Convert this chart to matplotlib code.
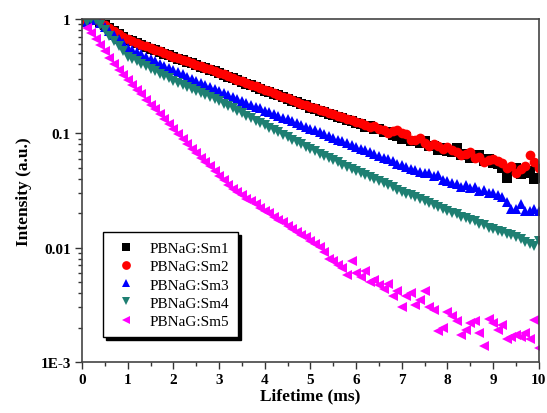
import matplotlib
matplotlib.use("Agg")
import matplotlib.pyplot as plt
from matplotlib.ticker import FixedLocator, MultipleLocator, NullFormatter

plt.rcParams['font.family'] = ['Liberation Serif', 'DejaVu Serif']

# sampling times (ms)
time_ms = [
    0.1, 0.2, 0.3, 0.4, 0.5, 0.6, 0.7, 0.8, 0.9, 1.0,
    1.1, 1.2, 1.3, 1.4, 1.5, 1.6, 1.7, 1.8, 1.9, 2.0,
    2.1, 2.2, 2.3, 2.4, 2.5, 2.6, 2.7, 2.8, 2.9, 3.0,
    3.1, 3.2, 3.3, 3.4, 3.5, 3.6, 3.7, 3.8, 3.9, 4.0,
    4.1, 4.2, 4.3, 4.4, 4.5, 4.6, 4.7, 4.8, 4.9, 5.0,
    5.1, 5.2, 5.3, 5.4, 5.5, 5.6, 5.7, 5.8, 5.9, 6.0,
    6.1, 6.2, 6.3, 6.4, 6.5, 6.6, 6.7, 6.8, 6.9, 7.0,
    7.1, 7.2, 7.3, 7.4, 7.5, 7.6, 7.7, 7.8, 7.9, 8.0,
    8.1, 8.2, 8.3, 8.4, 8.5, 8.6, 8.7, 8.8, 8.9, 9.0,
    9.1, 9.2, 9.3, 9.4, 9.5, 9.6, 9.7, 9.8, 9.9, 10.0,
]

sm1 = [
    0.930, 0.975, 1.000, 0.945, 0.885, 0.835, 0.785, 0.738, 0.698, 0.655,
    0.640, 0.612, 0.590, 0.572, 0.550, 0.534, 0.515, 0.498, 0.480, 0.465,
    0.450, 0.436, 0.421, 0.409, 0.394, 0.383, 0.370, 0.356, 0.347, 0.335,
    0.325, 0.312, 0.303, 0.292, 0.283, 0.271, 0.264, 0.253, 0.246, 0.236,
    0.230, 0.220, 0.214, 0.206, 0.200, 0.192, 0.187, 0.179, 0.175, 0.167,
    0.163, 0.156, 0.154, 0.147, 0.145, 0.138, 0.137, 0.130, 0.128, 0.122,
    0.121, 0.114, 0.115, 0.108, 0.109, 0.103, 0.102, 0.097, 0.094, 0.090,
    0.092, 0.086, 0.085, 0.082, 0.085, 0.077, 0.078, 0.072, 0.074, 0.070,
    0.069, 0.074, 0.064, 0.066, 0.061, 0.063, 0.064, 0.057, 0.059, 0.055,
    0.054, 0.050, 0.041, 0.049, 0.050, 0.044, 0.045, 0.047, 0.040, 0.041,
]

sm2 = [
    0.933, 0.977, 1.000, 0.942, 0.889, 0.838, 0.789, 0.743, 0.701, 0.661,
    0.645, 0.617, 0.596, 0.575, 0.556, 0.537, 0.519, 0.501, 0.484, 0.468,
    0.453, 0.439, 0.425, 0.411, 0.398, 0.385, 0.373, 0.361, 0.350, 0.339,
    0.327, 0.316, 0.305, 0.295, 0.285, 0.275, 0.266, 0.257, 0.248, 0.240,
    0.232, 0.224, 0.216, 0.209, 0.202, 0.195, 0.188, 0.182, 0.176, 0.170,
    0.165, 0.160, 0.155, 0.151, 0.146, 0.142, 0.138, 0.134, 0.130, 0.126,
    0.122, 0.119, 0.113, 0.115, 0.108, 0.107, 0.100, 0.104, 0.106, 0.101,
    0.098, 0.088, 0.087, 0.091, 0.083, 0.077, 0.081, 0.077, 0.073, 0.076,
    0.071, 0.069, 0.064, 0.066, 0.068, 0.061, 0.062, 0.056, 0.058, 0.060,
    0.057, 0.055, 0.050, 0.052, 0.045, 0.049, 0.052, 0.064, 0.056, 0.050,
]

sm3 = [
    0.933, 0.977, 1.000, 0.920, 0.849, 0.782, 0.719, 0.662, 0.611, 0.562,
    0.537, 0.513, 0.490, 0.468, 0.447, 0.427, 0.407, 0.389, 0.372, 0.355,
    0.340, 0.327, 0.313, 0.301, 0.288, 0.277, 0.265, 0.255, 0.244, 0.234,
    0.225, 0.217, 0.208, 0.200, 0.193, 0.185, 0.178, 0.171, 0.165, 0.158,
    0.153, 0.147, 0.142, 0.137, 0.132, 0.127, 0.122, 0.118, 0.114, 0.110,
    0.106, 0.102, 0.098, 0.095, 0.091, 0.088, 0.085, 0.082, 0.079, 0.076,
    0.073, 0.071, 0.068, 0.066, 0.063, 0.061, 0.059, 0.057, 0.054, 0.053,
    0.051, 0.049, 0.048, 0.046, 0.045, 0.045, 0.042, 0.043, 0.039, 0.038,
    0.037, 0.036, 0.034, 0.035, 0.033, 0.034, 0.031, 0.032, 0.030, 0.030,
    0.029, 0.028, 0.025, 0.022, 0.022, 0.024, 0.021, 0.021, 0.022, 0.021,
]

sm4 = [
    0.933, 0.989, 0.977, 0.879, 0.792, 0.713, 0.641, 0.577, 0.520, 0.468,
    0.446, 0.425, 0.405, 0.385, 0.367, 0.350, 0.333, 0.318, 0.303, 0.288,
    0.277, 0.265, 0.255, 0.244, 0.234, 0.225, 0.216, 0.207, 0.199, 0.191,
    0.182, 0.173, 0.165, 0.157, 0.150, 0.143, 0.136, 0.129, 0.123, 0.117,
    0.112, 0.107, 0.102, 0.0968, 0.0923, 0.0879, 0.0838, 0.0798, 0.0760, 0.0724,
    0.0693, 0.0664, 0.0635, 0.0608, 0.0582, 0.0557, 0.0533, 0.0511, 0.0489, 0.0468,
    0.0449, 0.0431, 0.0413, 0.0396, 0.0380, 0.0365, 0.0350, 0.0336, 0.0322, 0.0309,
    0.0297, 0.0286, 0.0275, 0.0264, 0.0254, 0.0248, 0.0235, 0.0228, 0.0217, 0.0209,
    0.0201, 0.0196, 0.0187, 0.0182, 0.0174, 0.0170, 0.0161, 0.0158, 0.0150, 0.0147,
    0.0140, 0.0138, 0.0131, 0.0128, 0.0123, 0.0119, 0.0113, 0.0108, 0.0104, 0.0115,
]

sm5 = [
    0.832, 0.759, 0.668, 0.589, 0.525, 0.457, 0.407, 0.359, 0.324, 0.295,
    0.266, 0.240, 0.219, 0.197, 0.178, 0.162, 0.148, 0.133, 0.120, 0.110,
    0.0989, 0.0891, 0.0813, 0.0733, 0.0668, 0.0610, 0.0556, 0.0513, 0.0468, 0.0427,
    0.0389, 0.0355, 0.0324, 0.0305, 0.0288, 0.0269, 0.0254, 0.0240, 0.0224, 0.0211,
    0.0200, 0.0186, 0.0176, 0.0166, 0.0155, 0.0146, 0.0138, 0.0130, 0.0123, 0.0115,
    0.0108, 0.0102, 0.00912, 0.00794, 0.00759, 0.00708, 0.00661, 0.00575, 0.00759, 0.00603,
    0.00550, 0.00631, 0.00501, 0.00525, 0.00468, 0.00437, 0.00479, 0.00380, 0.00417, 0.00302,
    0.00380, 0.00398, 0.00316, 0.00347, 0.00417, 0.00302, 0.00288, 0.00186, 0.00200, 0.00275,
    0.00251, 0.00229, 0.00174, 0.00191, 0.00219, 0.00229, 0.00178, 0.00138, 0.00240, 0.00219,
    0.00191, 0.00209, 0.00158, 0.00166, 0.00174, 0.00166, 0.00178, 0.00158, 0.00234, 0.00132,
]

labels = ['PBNaG:Sm1', 'PBNaG:Sm2', 'PBNaG:Sm3', 'PBNaG:Sm4', 'PBNaG:Sm5']
series = [sm1, sm2, sm3, sm4, sm5]
markers = ['s', 'o', '^', 'v', '<']
colors = ['black', '#ff0000', '#0000ff', '#1e7f72', '#ff00ff']

fig = plt.figure(figsize=(5.47, 4.14), dpi=100)
ax = fig.add_axes([0.150, 0.123, 0.835, 0.829])

for y, lab, m, c in zip(series, labels, markers, colors):
    ax.plot(time_ms, y, linestyle='none', marker=m, color=c,
            markersize=7, markeredgewidth=0, label=lab)

ax.set_yscale('log')
ax.set_xlim(0, 10)
ax.set_ylim(1e-3, 1)
ax.xaxis.set_major_locator(MultipleLocator(1))
ax.xaxis.set_minor_locator(MultipleLocator(0.5))
ax.yaxis.set_major_locator(FixedLocator([1e-3, 1e-2, 1e-1, 1]))
ax.set_yticklabels(['1E-3', '0.01', '0.1', '1'])
ax.yaxis.set_minor_formatter(NullFormatter())

ax.tick_params(which='both', direction='out', top=False, right=False,
               width=1.0, colors='#333333')
ax.tick_params(which='major', length=5, labelsize=11, pad=3)
ax.tick_params(which='minor', length=3)
for lbl in ax.get_xticklabels() + ax.get_yticklabels():
    lbl.set_fontweight('bold')
    lbl.set_color('black')
for sp in ax.spines.values():
    sp.set_linewidth(1.2)
    sp.set_color('#444444')

ax.set_xlabel('Lifetime (ms)', fontsize=12.5, fontweight='bold', labelpad=1)
ax.set_ylabel('Intensity (a.u.)', fontsize=12.5, fontweight='bold', labelpad=6)

leg = ax.legend(loc='lower left', bbox_to_anchor=(0.03, 0.05), fontsize=11,
                frameon=True, fancybox=False, edgecolor='black',
                shadow={'color': 'black', 'alpha': 1.0},
                handletextpad=0.6, labelspacing=0.3, borderpad=0.6,
                handlelength=1.8, markerscale=0.9)
leg.get_frame().set_linewidth(1.0)

fig.savefig('out.png', dpi=100)
